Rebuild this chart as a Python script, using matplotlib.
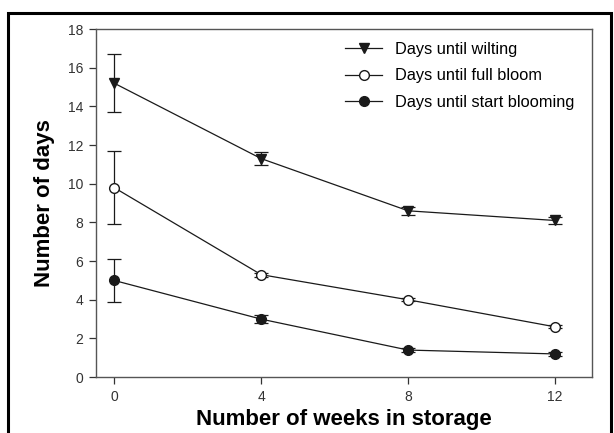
import matplotlib
matplotlib.use("Agg")
import matplotlib.pyplot as plt
from matplotlib.patches import Rectangle

plt.rcParams['font.family'] = ['Liberation Sans', 'DejaVu Sans']

# Data
weeks = [0, 4, 8, 12]
wilting = [15.2, 11.3, 8.6, 8.1]
wilting_err = [1.5, 0.35, 0.2, 0.2]
full_bloom = [9.8, 5.3, 4.0, 2.6]
full_bloom_err = [1.9, 0.1, 0.08, 0.08]
start_bloom = [5.0, 3.0, 1.4, 1.2]
start_bloom_err = [1.1, 0.2, 0.1, 0.1]

fig = plt.figure(figsize=(6.14, 4.33), dpi=100)
ax = fig.add_axes([0.156, 0.129, 0.808, 0.804])

# outer frame around the figure (bottom edge falls outside the image)
fig.patches.append(Rectangle((0.013, -0.05), 0.982, 1.02, transform=fig.transFigure,
                             fill=False, edgecolor='black', linewidth=2.2))

dark = '#1a1a1a'
series = [
    (wilting, wilting_err, 'v', dark, 'Days until wilting'),
    (full_bloom, full_bloom_err, 'o', 'white', 'Days until full bloom'),
    (start_bloom, start_bloom_err, 'o', dark, 'Days until start blooming'),
]
for vals, errs, mk, fc, lab in series:
    ax.errorbar(weeks, vals, yerr=errs, fmt='none', ecolor=dark, elinewidth=0.9,
                capsize=5, capthick=0.9)
    ax.plot(weeks, vals, color=dark, linewidth=0.9, marker=mk, markersize=7,
            markerfacecolor=fc, markeredgecolor=dark, label=lab)

ax.set_xlim(-0.5, 13.0)
ax.set_ylim(0, 18)
ax.set_xticks(weeks)
ax.set_yticks(range(0, 19, 2))
ax.tick_params(direction='out', length=5, width=0.9, labelsize=10, colors='#333333', pad=4)
for s in ax.spines.values():
    s.set_color('#555555')
    s.set_linewidth(1.0)

ax.set_xlabel('Number of weeks in storage', fontsize=16, fontweight='bold', labelpad=4)
ax.set_ylabel('Number of days', fontsize=16, fontweight='bold', labelpad=9)

ax.legend(loc='upper left', frameon=False, fontsize=11.8, handlelength=2.25,
          handletextpad=0.75, labelspacing=0.7, borderaxespad=0.0,
          bbox_to_anchor=(0.49, 0.982))

fig.savefig('out.png', dpi=100)
